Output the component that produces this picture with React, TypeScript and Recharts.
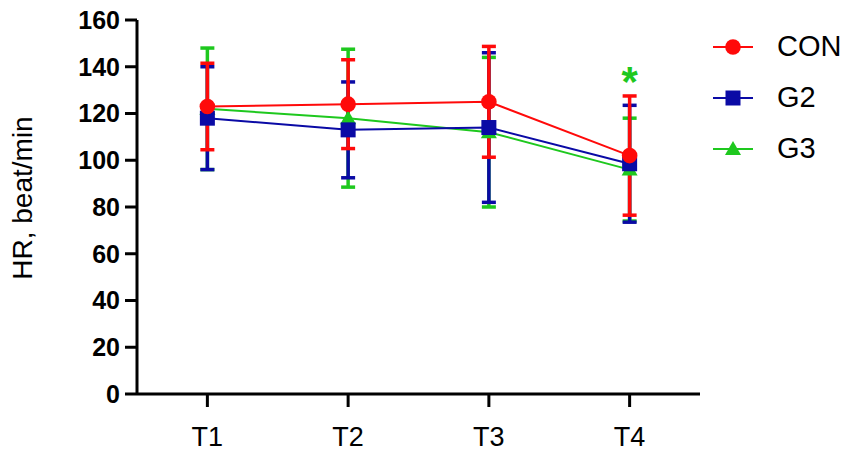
import React from "react";
import {
  ComposedChart,
  Line,
  ErrorBar,
  XAxis,
  YAxis,
  Legend,
  ReferenceDot,
  Label,
} from "recharts";

const TIMES = ["T1", "T2", "T3", "T4"];
const CON_MEAN = [123, 124, 125, 102];
const CON_SD = [18.5, 19, 23.7, 25.5];
const G2_MEAN = [118, 113, 114, 98.5];
const G2_SD = [22, 20.5, 32, 25];
const G3_MEAN = [122, 118, 112, 96];
const G3_SD = [26, 29.5, 32, 22];
const Y_TICKS = [0, 20, 40, 60, 80, 100, 120, 140, 160];
// significance marks: [time, height]
const STARS: [string, number][] = [["T4", 137]];

const RED = "#ff0a0a";
const BLUE = "#0a0aa5";
const GREEN = "#1ec81e";
const FONT = "'Liberation Sans', Arial, sans-serif";

const SERIES = [
  { key: "g3", name: "G3", color: GREEN, shape: "triangle" },
  { key: "g2", name: "G2", color: BLUE, shape: "square" },
  { key: "con", name: "CON", color: RED, shape: "circle" },
];

const data = TIMES.map((t, i) => ({
  time: t,
  con: CON_MEAN[i],
  conSd: CON_SD[i],
  g2: G2_MEAN[i],
  g2Sd: G2_SD[i],
  g3: G3_MEAN[i],
  g3Sd: G3_SD[i],
}));

function Marker({ cx, cy, shape, color }: any) {
  if (cx == null || cy == null) return null;
  if (shape === "square") {
    return <rect x={cx - 7.5} y={cy - 7.5} width={15} height={15} fill={color} />;
  }
  if (shape === "triangle") {
    return (
      <polygon
        points={`${cx},${cy - 8} ${cx + 8},${cy + 6} ${cx - 8},${cy + 6}`}
        fill={color}
      />
    );
  }
  return <circle cx={cx} cy={cy} r={7.8} fill={color} />;
}

function LegendBox() {
  const order = ["con", "g2", "g3"];
  return (
    <div style={{ fontFamily: FONT }}>
      {order.map((k) => {
        const s = SERIES.find((x) => x.key === k)!;
        return (
          <div
            key={k}
            style={{ display: "flex", alignItems: "center", height: 51 }}
          >
            <svg width={77} height={24}>
              <line x1={13} y1={12} x2={53} y2={12} stroke={s.color} strokeWidth={2} />
              <Marker cx={33} cy={12} shape={s.shape} color={s.color} />
            </svg>
            <span style={{ fontSize: 29, color: "#000", lineHeight: 1 }}>{s.name}</span>
          </div>
        );
      })}
    </div>
  );
}

export default function App() {
  return (
    <div style={{ position: "absolute", left: 0, top: 0, background: "#fff" }}>
      <ComposedChart
        width={851}
        height={457}
        data={data}
        margin={{ top: 20, right: 151, bottom: 0, left: 0 }}
      >
        <XAxis
          dataKey="time"
          type="category"
          scale="band"
          height={63}
          stroke="#000"
          strokeWidth={3}
          tickSize={13}
          tickMargin={20}
          tick={{ fontSize: 27, fill: "#000", fontFamily: FONT }}
        />
        <YAxis
          width={137}
          domain={[0, 160]}
          ticks={Y_TICKS}
          interval={0}
          stroke="#000"
          strokeWidth={3}
          tickSize={12}
          tickMargin={5}
          tick={{ fontSize: 25, fontWeight: "bold", fill: "#000", fontFamily: FONT }}
        >
          <Label
            content={({ viewBox }: any) => {
              const x = viewBox.x + 22;
              const y = viewBox.y + viewBox.height / 2 - 9;
              return (
                <text
                  x={x}
                  y={y}
                  transform={`rotate(-90, ${x}, ${y})`}
                  textAnchor="middle"
                  dominantBaseline="central"
                  fontSize={28}
                  fontFamily={FONT}
                  fill="#000"
                >
                  HR, beat/min
                </text>
              );
            }}
          />
        </YAxis>
        <Legend
          layout="vertical"
          align="center"
          verticalAlign="middle"
          wrapperStyle={{ left: 700, top: 21, width: 151 }}
          content={() => <LegendBox />}
        />
        {SERIES.map((s) => (
          <Line
            key={s.key}
            dataKey={s.key}
            name={s.name}
            stroke={s.color}
            strokeWidth={2}
            isAnimationActive={false}
            dot={(p: any) => (
              <Marker key={`${s.key}-${p.index}`} cx={p.cx} cy={p.cy} shape={s.shape} color={s.color} />
            )}
            activeDot={false}
          >
            <ErrorBar
              dataKey={`${s.key}Sd`}
              width={7}
              stroke={s.color}
              strokeWidth={3.5}
              isAnimationActive={false}
            />
          </Line>
        ))}
        {STARS.map(([t, v]) => (
          <ReferenceDot
            key={t}
            x={t}
            y={v}
            r={0}
            shape={(p: any) => (
              <text
                x={p.cx}
                y={p.cy + 22}
                textAnchor="middle"
                fontSize={42}
                fontWeight="bold"
                fontFamily={FONT}
                fill={GREEN}
              >
                *
              </text>
            )}
          />
        ))}
      </ComposedChart>
    </div>
  );
}
